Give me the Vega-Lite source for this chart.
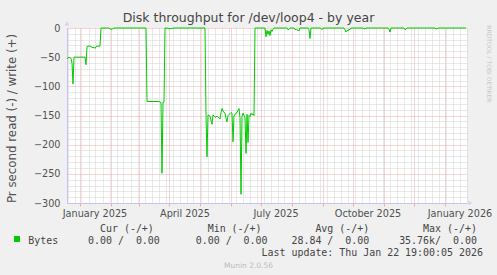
{
  "$schema": "https://vega.github.io/schema/vega-lite/v6.json",
  "width": 400,
  "height": 175,
  "autosize": {"type": "none"},
  "padding": {"left": 67, "top": 28, "right": 30, "bottom": 72},
  "background": "#F0F0F0",
  "config": {
    "view": {"fill": "#FFFFFF", "stroke": null},
    "font": "DejaVu Sans"
  },
  "title": {
    "text": "Disk throughput for /dev/loop4 - by year",
    "font": "DejaVu Sans",
    "fontSize": 12.5,
    "fontWeight": "normal",
    "color": "#444444",
    "anchor": "middle",
    "frame": "group",
    "baseline": "alphabetic",
    "offset": 0,
    "dx": -18.5,
    "dy": 13
  },
  "datasets": {
    "read": [
      {"t": "2024-12-19T12:00:00Z", "v": -53, "s": "Bytes"},
      {"t": "2024-12-20T12:00:00Z", "v": -51, "s": "Bytes"},
      {"t": "2024-12-21T12:00:00Z", "v": -50, "s": "Bytes"},
      {"t": "2024-12-22T12:00:00Z", "v": -51, "s": "Bytes"},
      {"t": "2024-12-23T12:00:00Z", "v": -52, "s": "Bytes"},
      {"t": "2024-12-24T12:00:00Z", "v": -60, "s": "Bytes"},
      {"t": "2024-12-25T12:00:00Z", "v": -96, "s": "Bytes"},
      {"t": "2024-12-26T12:00:00Z", "v": -50, "s": "Bytes"},
      {"t": "2025-01-06T12:00:00Z", "v": -50, "s": "Bytes"},
      {"t": "2025-01-07T12:00:00Z", "v": -63, "s": "Bytes"},
      {"t": "2025-01-08T12:00:00Z", "v": -32, "s": "Bytes"},
      {"t": "2025-01-09T12:00:00Z", "v": -31, "s": "Bytes"},
      {"t": "2025-01-10T12:00:00Z", "v": -31, "s": "Bytes"},
      {"t": "2025-01-11T12:00:00Z", "v": -31, "s": "Bytes"},
      {"t": "2025-01-12T12:00:00Z", "v": -32, "s": "Bytes"},
      {"t": "2025-01-13T12:00:00Z", "v": -33, "s": "Bytes"},
      {"t": "2025-01-14T12:00:00Z", "v": -34, "s": "Bytes"},
      {"t": "2025-01-15T12:00:00Z", "v": -33, "s": "Bytes"},
      {"t": "2025-01-16T12:00:00Z", "v": -35, "s": "Bytes"},
      {"t": "2025-01-17T12:00:00Z", "v": -32, "s": "Bytes"},
      {"t": "2025-01-18T12:00:00Z", "v": -31, "s": "Bytes"},
      {"t": "2025-01-19T12:00:00Z", "v": -31, "s": "Bytes"},
      {"t": "2025-01-20T12:00:00Z", "v": -31, "s": "Bytes"},
      {"t": "2025-01-21T12:00:00Z", "v": -31, "s": "Bytes"},
      {"t": "2025-01-22T12:00:00Z", "v": 0, "s": "Bytes"},
      {"t": "2025-01-30T12:00:00Z", "v": 0, "s": "Bytes"},
      {"t": "2025-01-31T12:00:00Z", "v": -2, "s": "Bytes"},
      {"t": "2025-02-01T12:00:00Z", "v": -2, "s": "Bytes"},
      {"t": "2025-02-02T12:00:00Z", "v": -2, "s": "Bytes"},
      {"t": "2025-02-03T12:00:00Z", "v": -1, "s": "Bytes"},
      {"t": "2025-02-04T12:00:00Z", "v": 0, "s": "Bytes"},
      {"t": "2025-03-08T12:00:00Z", "v": 0, "s": "Bytes"},
      {"t": "2025-03-09T12:00:00Z", "v": -126, "s": "Bytes"},
      {"t": "2025-03-21T12:00:00Z", "v": -126, "s": "Bytes"},
      {"t": "2025-03-22T12:00:00Z", "v": -127, "s": "Bytes"},
      {"t": "2025-03-23T12:00:00Z", "v": -128, "s": "Bytes"},
      {"t": "2025-03-24T12:00:00Z", "v": -249, "s": "Bytes"},
      {"t": "2025-03-25T12:00:00Z", "v": -127, "s": "Bytes"},
      {"t": "2025-03-26T12:00:00Z", "v": -127, "s": "Bytes"},
      {"t": "2025-03-27T12:00:00Z", "v": 0, "s": "Bytes"},
      {"t": "2025-03-29T12:00:00Z", "v": 0, "s": "Bytes"},
      {"t": "2025-03-30T12:00:00Z", "v": -1, "s": "Bytes"},
      {"t": "2025-04-03T12:00:00Z", "v": -1, "s": "Bytes"},
      {"t": "2025-04-04T12:00:00Z", "v": 0, "s": "Bytes"},
      {"t": "2025-05-06T12:00:00Z", "v": 0, "s": "Bytes"},
      {"t": "2025-05-07T12:00:00Z", "v": -150, "s": "Bytes"},
      {"t": "2025-05-08T12:00:00Z", "v": -221, "s": "Bytes"},
      {"t": "2025-05-09T12:00:00Z", "v": -149, "s": "Bytes"},
      {"t": "2025-05-10T12:00:00Z", "v": -150, "s": "Bytes"},
      {"t": "2025-05-11T12:00:00Z", "v": -151, "s": "Bytes"},
      {"t": "2025-05-12T12:00:00Z", "v": -158, "s": "Bytes"},
      {"t": "2025-05-13T12:00:00Z", "v": -165, "s": "Bytes"},
      {"t": "2025-05-14T12:00:00Z", "v": -149, "s": "Bytes"},
      {"t": "2025-05-15T12:00:00Z", "v": -151, "s": "Bytes"},
      {"t": "2025-05-16T12:00:00Z", "v": -153, "s": "Bytes"},
      {"t": "2025-05-17T12:00:00Z", "v": -152, "s": "Bytes"},
      {"t": "2025-05-18T12:00:00Z", "v": -151, "s": "Bytes"},
      {"t": "2025-05-19T12:00:00Z", "v": -153, "s": "Bytes"},
      {"t": "2025-05-20T12:00:00Z", "v": -154, "s": "Bytes"},
      {"t": "2025-05-21T12:00:00Z", "v": -156, "s": "Bytes"},
      {"t": "2025-05-22T12:00:00Z", "v": -145, "s": "Bytes"},
      {"t": "2025-05-23T12:00:00Z", "v": -138, "s": "Bytes"},
      {"t": "2025-05-24T12:00:00Z", "v": -142, "s": "Bytes"},
      {"t": "2025-05-25T12:00:00Z", "v": -145, "s": "Bytes"},
      {"t": "2025-05-26T12:00:00Z", "v": -146, "s": "Bytes"},
      {"t": "2025-05-27T12:00:00Z", "v": -155, "s": "Bytes"},
      {"t": "2025-05-28T12:00:00Z", "v": -161, "s": "Bytes"},
      {"t": "2025-05-29T12:00:00Z", "v": -150, "s": "Bytes"},
      {"t": "2025-05-30T12:00:00Z", "v": -148, "s": "Bytes"},
      {"t": "2025-05-31T12:00:00Z", "v": -147, "s": "Bytes"},
      {"t": "2025-06-01T12:00:00Z", "v": -145, "s": "Bytes"},
      {"t": "2025-06-02T12:00:00Z", "v": -146, "s": "Bytes"},
      {"t": "2025-06-03T12:00:00Z", "v": -195, "s": "Bytes"},
      {"t": "2025-06-04T12:00:00Z", "v": -150, "s": "Bytes"},
      {"t": "2025-06-05T12:00:00Z", "v": -149, "s": "Bytes"},
      {"t": "2025-06-06T12:00:00Z", "v": -146, "s": "Bytes"},
      {"t": "2025-06-07T12:00:00Z", "v": -145, "s": "Bytes"},
      {"t": "2025-06-08T12:00:00Z", "v": -141, "s": "Bytes"},
      {"t": "2025-06-09T12:00:00Z", "v": -138, "s": "Bytes"},
      {"t": "2025-06-10T12:00:00Z", "v": -154, "s": "Bytes"},
      {"t": "2025-06-11T12:00:00Z", "v": -285, "s": "Bytes"},
      {"t": "2025-06-12T12:00:00Z", "v": -152, "s": "Bytes"},
      {"t": "2025-06-13T12:00:00Z", "v": -146, "s": "Bytes"},
      {"t": "2025-06-14T12:00:00Z", "v": -150, "s": "Bytes"},
      {"t": "2025-06-15T12:00:00Z", "v": -154, "s": "Bytes"},
      {"t": "2025-06-16T12:00:00Z", "v": -215, "s": "Bytes"},
      {"t": "2025-06-17T12:00:00Z", "v": -148, "s": "Bytes"},
      {"t": "2025-06-18T12:00:00Z", "v": -196, "s": "Bytes"},
      {"t": "2025-06-19T12:00:00Z", "v": -150, "s": "Bytes"},
      {"t": "2025-06-20T12:00:00Z", "v": -152, "s": "Bytes"},
      {"t": "2025-06-21T12:00:00Z", "v": -146, "s": "Bytes"},
      {"t": "2025-06-22T12:00:00Z", "v": -149, "s": "Bytes"},
      {"t": "2025-06-23T12:00:00Z", "v": -147, "s": "Bytes"},
      {"t": "2025-06-24T12:00:00Z", "v": -150, "s": "Bytes"},
      {"t": "2025-06-25T12:00:00Z", "v": 0, "s": "Bytes"},
      {"t": "2025-07-05T12:00:00Z", "v": 0, "s": "Bytes"},
      {"t": "2025-07-06T12:00:00Z", "v": -15, "s": "Bytes"},
      {"t": "2025-07-07T12:00:00Z", "v": -4, "s": "Bytes"},
      {"t": "2025-07-08T12:00:00Z", "v": -11, "s": "Bytes"},
      {"t": "2025-07-09T12:00:00Z", "v": -5, "s": "Bytes"},
      {"t": "2025-07-10T12:00:00Z", "v": -13, "s": "Bytes"},
      {"t": "2025-07-11T12:00:00Z", "v": -3, "s": "Bytes"},
      {"t": "2025-07-12T12:00:00Z", "v": -6, "s": "Bytes"},
      {"t": "2025-07-13T12:00:00Z", "v": -2, "s": "Bytes"},
      {"t": "2025-07-14T12:00:00Z", "v": 0, "s": "Bytes"},
      {"t": "2025-07-27T12:00:00Z", "v": 0, "s": "Bytes"},
      {"t": "2025-07-28T12:00:00Z", "v": -3, "s": "Bytes"},
      {"t": "2025-07-29T12:00:00Z", "v": -2, "s": "Bytes"},
      {"t": "2025-07-30T12:00:00Z", "v": 0, "s": "Bytes"},
      {"t": "2025-08-03T12:00:00Z", "v": 0, "s": "Bytes"},
      {"t": "2025-08-04T12:00:00Z", "v": -3, "s": "Bytes"},
      {"t": "2025-08-05T12:00:00Z", "v": -2, "s": "Bytes"},
      {"t": "2025-08-06T12:00:00Z", "v": -4, "s": "Bytes"},
      {"t": "2025-08-07T12:00:00Z", "v": -3, "s": "Bytes"},
      {"t": "2025-08-08T12:00:00Z", "v": -5, "s": "Bytes"},
      {"t": "2025-08-09T12:00:00Z", "v": 0, "s": "Bytes"},
      {"t": "2025-08-17T12:00:00Z", "v": 0, "s": "Bytes"},
      {"t": "2025-08-18T12:00:00Z", "v": -3, "s": "Bytes"},
      {"t": "2025-08-19T12:00:00Z", "v": -18, "s": "Bytes"},
      {"t": "2025-08-20T12:00:00Z", "v": 0, "s": "Bytes"},
      {"t": "2025-08-29T12:00:00Z", "v": 0, "s": "Bytes"},
      {"t": "2025-08-30T12:00:00Z", "v": -1, "s": "Bytes"},
      {"t": "2025-08-31T12:00:00Z", "v": -3, "s": "Bytes"},
      {"t": "2025-09-01T12:00:00Z", "v": 0, "s": "Bytes"},
      {"t": "2025-09-22T12:00:00Z", "v": 0, "s": "Bytes"},
      {"t": "2025-09-23T12:00:00Z", "v": -3, "s": "Bytes"},
      {"t": "2025-09-24T12:00:00Z", "v": -7, "s": "Bytes"},
      {"t": "2025-09-25T12:00:00Z", "v": -4, "s": "Bytes"},
      {"t": "2025-09-26T12:00:00Z", "v": -5, "s": "Bytes"},
      {"t": "2025-09-27T12:00:00Z", "v": -2, "s": "Bytes"},
      {"t": "2025-09-28T12:00:00Z", "v": -3, "s": "Bytes"},
      {"t": "2025-09-29T12:00:00Z", "v": 0, "s": "Bytes"},
      {"t": "2025-10-11T12:00:00Z", "v": 0, "s": "Bytes"},
      {"t": "2025-10-12T12:00:00Z", "v": -1, "s": "Bytes"},
      {"t": "2025-10-13T12:00:00Z", "v": -2, "s": "Bytes"},
      {"t": "2025-10-14T12:00:00Z", "v": 0, "s": "Bytes"},
      {"t": "2025-11-05T12:00:00Z", "v": 0, "s": "Bytes"},
      {"t": "2025-11-06T12:00:00Z", "v": -2, "s": "Bytes"},
      {"t": "2025-11-07T12:00:00Z", "v": -7, "s": "Bytes"},
      {"t": "2025-11-08T12:00:00Z", "v": 0, "s": "Bytes"},
      {"t": "2025-11-21T12:00:00Z", "v": 0, "s": "Bytes"},
      {"t": "2025-11-22T12:00:00Z", "v": -3, "s": "Bytes"},
      {"t": "2025-11-23T12:00:00Z", "v": -2, "s": "Bytes"},
      {"t": "2025-11-24T12:00:00Z", "v": 0, "s": "Bytes"},
      {"t": "2025-12-22T12:00:00Z", "v": 0, "s": "Bytes"},
      {"t": "2025-12-23T12:00:00Z", "v": -1, "s": "Bytes"},
      {"t": "2025-12-24T12:00:00Z", "v": -2, "s": "Bytes"},
      {"t": "2025-12-25T12:00:00Z", "v": 0, "s": "Bytes"},
      {"t": "2026-01-22T12:00:00Z", "v": 0, "s": "Bytes"}
    ],
    "ends": [
      {"t": "2024-12-19T12:00:00Z", "v": 0},
      {"t": "2026-01-23T12:00:00Z", "v": -300}
    ]
  },
  "layer": [
    {
      "data": {"name": "ends"},
      "transform": [{"filter": "datum.v == 0"}],
      "mark": {"type": "point", "shape": "triangle-up", "filled": true, "size": 22, "color": "#C4C4F4", "strokeWidth": 0, "yOffset": -4.5},
      "encoding": {
        "x": {
          "field": "t", "type": "temporal",
          "scale": {"type": "utc", "domain": [{"year": 2024, "month": 12, "date": 19, "hours": 12, "utc": true}, {"year": 2026, "month": 1, "date": 23, "hours": 12, "utc": true}]},
          "axis": {
            "orient": "top",
            "values": [
              {"year": 2024, "month": 12, "date": 20, "utc": true}, {"year": 2024, "month": 12, "date": 27, "utc": true},
              {"year": 2025, "month": 1, "date": 3, "utc": true}, {"year": 2025, "month": 1, "date": 10, "utc": true}, {"year": 2025, "month": 1, "date": 17, "utc": true}, {"year": 2025, "month": 1, "date": 24, "utc": true}, {"year": 2025, "month": 1, "date": 31, "utc": true},
              {"year": 2025, "month": 2, "date": 7, "utc": true}, {"year": 2025, "month": 2, "date": 14, "utc": true}, {"year": 2025, "month": 2, "date": 21, "utc": true}, {"year": 2025, "month": 2, "date": 28, "utc": true},
              {"year": 2025, "month": 3, "date": 7, "utc": true}, {"year": 2025, "month": 3, "date": 14, "utc": true}, {"year": 2025, "month": 3, "date": 21, "utc": true}, {"year": 2025, "month": 3, "date": 28, "utc": true},
              {"year": 2025, "month": 4, "date": 4, "utc": true}, {"year": 2025, "month": 4, "date": 11, "utc": true}, {"year": 2025, "month": 4, "date": 18, "utc": true}, {"year": 2025, "month": 4, "date": 25, "utc": true},
              {"year": 2025, "month": 5, "date": 2, "utc": true}, {"year": 2025, "month": 5, "date": 9, "utc": true}, {"year": 2025, "month": 5, "date": 16, "utc": true}, {"year": 2025, "month": 5, "date": 23, "utc": true}, {"year": 2025, "month": 5, "date": 30, "utc": true},
              {"year": 2025, "month": 6, "date": 6, "utc": true}, {"year": 2025, "month": 6, "date": 13, "utc": true}, {"year": 2025, "month": 6, "date": 20, "utc": true}, {"year": 2025, "month": 6, "date": 27, "utc": true},
              {"year": 2025, "month": 7, "date": 4, "utc": true}, {"year": 2025, "month": 7, "date": 11, "utc": true}, {"year": 2025, "month": 7, "date": 18, "utc": true}, {"year": 2025, "month": 7, "date": 25, "utc": true},
              {"year": 2025, "month": 8, "date": 8, "utc": true}, {"year": 2025, "month": 8, "date": 15, "utc": true}, {"year": 2025, "month": 8, "date": 22, "utc": true}, {"year": 2025, "month": 8, "date": 29, "utc": true},
              {"year": 2025, "month": 9, "date": 5, "utc": true}, {"year": 2025, "month": 9, "date": 12, "utc": true}, {"year": 2025, "month": 9, "date": 19, "utc": true}, {"year": 2025, "month": 9, "date": 26, "utc": true},
              {"year": 2025, "month": 10, "date": 3, "utc": true}, {"year": 2025, "month": 10, "date": 10, "utc": true}, {"year": 2025, "month": 10, "date": 17, "utc": true}, {"year": 2025, "month": 10, "date": 24, "utc": true}, {"year": 2025, "month": 10, "date": 31, "utc": true},
              {"year": 2025, "month": 11, "date": 7, "utc": true}, {"year": 2025, "month": 11, "date": 14, "utc": true}, {"year": 2025, "month": 11, "date": 21, "utc": true}, {"year": 2025, "month": 11, "date": 28, "utc": true},
              {"year": 2025, "month": 12, "date": 5, "utc": true}, {"year": 2025, "month": 12, "date": 12, "utc": true}, {"year": 2025, "month": 12, "date": 19, "utc": true}, {"year": 2025, "month": 12, "date": 26, "utc": true},
              {"year": 2026, "month": 1, "date": 2, "utc": true}, {"year": 2026, "month": 1, "date": 9, "utc": true}, {"year": 2026, "month": 1, "date": 16, "utc": true}, {"year": 2026, "month": 1, "date": 23, "utc": true}
            ],
            "grid": true, "gridColor": "#D2D2D2", "gridDash": [1, 1], "gridWidth": 1,
            "labels": false, "ticks": false, "domain": false,
            "title": "Munin 2.0.56",
            "titleFont": "DejaVu Sans", "titleFontSize": 7.5, "titleFontWeight": "normal", "titleColor": "#BBBBBB",
            "titleX": 181, "titleY": 239, "titleAlign": "center", "titleBaseline": "alphabetic", "titleAngle": 0
          }
        },
        "y": {
          "field": "v", "type": "quantitative",
          "scale": {"domain": [-300, 0], "nice": false, "zero": false},
          "axis": {
            "orient": "right",
            "values": [-290, -280, -270, -260, -240, -230, -220, -210, -190, -180, -170, -160, -140, -130, -120, -110, -90, -80, -70, -60, -40, -30, -20, -10],
            "grid": true, "gridColor": "#D2D2D2", "gridDash": [1, 1], "gridWidth": 1,
            "labels": false, "ticks": false, "domain": false,
            "title": "RRDTOOL / TOBI OETIKER",
            "titleFont": "DejaVu Sans", "titleFontSize": 6, "titleFontWeight": "normal", "titleColor": "#C8C8C8",
            "titleX": 21, "titleY": 35.4, "titleAngle": 90, "titleAlign": "center", "titleBaseline": "middle"
          }
        }
      }
    },
    {
      "data": {"name": "ends"},
      "transform": [{"filter": "datum.v == -300"}],
      "mark": {"type": "point", "shape": "triangle-right", "filled": true, "size": 22, "color": "#C4C4F4", "strokeWidth": 0, "xOffset": 3.5},
      "encoding": {
        "x": {"field": "t", "type": "temporal", "scale": {"type": "utc", "domain": [{"year": 2024, "month": 12, "date": 19, "hours": 12, "utc": true}, {"year": 2026, "month": 1, "date": 23, "hours": 12, "utc": true}]}, "axis": null},
        "y": {"field": "v", "type": "quantitative", "scale": {"domain": [-300, 0], "nice": false, "zero": false}, "axis": null}
      }
    },
    {
      "data": {"name": "read"},
      "mark": {"type": "line", "strokeWidth": 1, "interpolate": "linear"},
      "encoding": {
        "x": {
          "field": "t", "type": "temporal",
          "scale": {"type": "utc", "domain": [{"year": 2024, "month": 12, "date": 19, "hours": 12, "utc": true}, {"year": 2026, "month": 1, "date": 23, "hours": 12, "utc": true}]},
          "axis": {
            "orient": "bottom",
            "values": [
              {"year": 2025, "month": 1, "date": 1, "utc": true}, {"year": 2025, "month": 2, "date": 1, "utc": true}, {"year": 2025, "month": 3, "date": 1, "utc": true},
              {"year": 2025, "month": 4, "date": 1, "utc": true}, {"year": 2025, "month": 5, "date": 1, "utc": true}, {"year": 2025, "month": 6, "date": 1, "utc": true},
              {"year": 2025, "month": 7, "date": 1, "utc": true}, {"year": 2025, "month": 8, "date": 1, "utc": true}, {"year": 2025, "month": 9, "date": 1, "utc": true},
              {"year": 2025, "month": 10, "date": 1, "utc": true}, {"year": 2025, "month": 11, "date": 1, "utc": true}, {"year": 2025, "month": 12, "date": 1, "utc": true},
              {"year": 2026, "month": 1, "date": 1, "utc": true}
            ],
            "grid": true, "gridColor": "#F0A8A8", "gridDash": [1, 1], "gridWidth": 1,
            "ticks": true, "tickColor": "#F0A8A8", "tickSize": 3,
            "domain": true, "domainColor": "#C4C4F4", "domainWidth": 1,
            "labelExpr": "utcmonth(datum.value) % 3 === 0 ? utcFormat(datum.value, '%B %Y') : ''",
            "labelOffset": 15, "labelFlush": false, "labelOverlap": false, "labelBound": false,
            "labelFont": "DejaVu Sans", "labelFontSize": 9.7, "labelColor": "#505050", "labelPadding": 2,
            "title": [
              "\u200b\u00a0\u00a0\u00a0\u00a0\u00a0\u00a0\u00a0\u00a0\u00a0\u00a0\u00a0\u00a0Cur\u00a0(-/+)\u00a0\u00a0\u00a0\u00a0\u00a0\u00a0\u00a0\u00a0\u00a0Min\u00a0(-/+)\u00a0\u00a0\u00a0\u00a0\u00a0\u00a0\u00a0\u00a0\u00a0Avg\u00a0(-/+)\u00a0\u00a0\u00a0\u00a0\u00a0\u00a0\u00a0\u00a0\u00a0Max\u00a0(-/+)",
              "Bytes\u00a0\u00a0\u00a0\u00a0\u00a00.00\u00a0/\u00a0\u00a00.00\u00a0\u00a0\u00a0\u00a0\u00a0\u00a00.00\u00a0/\u00a0\u00a00.00\u00a0\u00a0\u00a0\u00a028.84\u00a0/\u00a0\u00a00.00\u00a0\u00a0\u00a0\u00a0\u00a035.76k/\u00a0\u00a00.00",
              "\u200b\u00a0\u00a0\u00a0\u00a0\u00a0\u00a0\u00a0\u00a0\u00a0\u00a0\u00a0\u00a0\u00a0\u00a0\u00a0\u00a0\u00a0\u00a0\u00a0\u00a0\u00a0\u00a0\u00a0\u00a0\u00a0\u00a0\u00a0\u00a0\u00a0\u00a0\u00a0\u00a0\u00a0\u00a0\u00a0\u00a0\u00a0\u00a0\u00a0Last\u00a0update:\u00a0Thu\u00a0Jan\u00a022\u00a019:00:05\u00a02026"
            ],
            "titleFont": "DejaVu Sans Mono", "titleFontSize": 9.95, "titleFontWeight": "normal", "titleColor": "#444444",
            "titleX": -39.3, "titleY": 28.3, "titleAlign": "left", "titleBaseline": "alphabetic", "titleLineHeight": 12, "titleAngle": 0
          }
        },
        "y": {
          "field": "v", "type": "quantitative",
          "scale": {"domain": [-300, 0], "nice": false, "zero": false},
          "axis": {
            "orient": "left",
            "values": [-300, -250, -200, -150, -100, -50, 0],
            "grid": true, "gridColor": "#F0A8A8", "gridDash": [1, 1], "gridWidth": 1,
            "ticks": false, "tickSize": 0,
            "domain": true, "domainColor": "#C4C4F4", "domainWidth": 1,
            "labelFont": "DejaVu Sans", "labelFontSize": 9.7, "labelColor": "#505050", "labelPadding": 7,
            "title": "Pr second read (-) / write (+)",
            "titleFont": "DejaVu Sans", "titleFontSize": 11.8, "titleFontWeight": "normal", "titleColor": "#505050",
            "titleX": -56, "titleY": 90, "titleAngle": -90, "titleAlign": "center", "titleBaseline": "middle"
          }
        },
        "color": {
          "field": "s", "type": "nominal",
          "scale": {"domain": ["Bytes"], "range": ["#00CC00"]},
          "legend": {
            "orient": "none", "legendX": -53, "legendY": 208,
            "title": null, "padding": 0, "offset": 0,
            "symbolType": "square", "symbolSize": 36, "symbolFillColor": "#00CC00", "symbolStrokeColor": "#00CC00", "symbolStrokeWidth": 0,
            "labelExpr": "''", "labelFontSize": 1,
            "encode": {"symbols": {"update": {"fill": {"value": "#00CC00"}, "stroke": {"value": "#00CC00"}, "strokeWidth": {"value": 0}, "opacity": {"value": 1}}}}
          }
        }
      }
    },
    {
      "mark": {"type": "rule", "color": "#000000", "strokeWidth": 1.2, "yOffset": 0},
      "encoding": {
        "y": {"datum": 0, "type": "quantitative", "scale": {"domain": [-300, 0], "nice": false, "zero": false}, "axis": null}
      }
    }
  ],
  "resolve": {"axis": {"x": "independent", "y": "independent"}}
}
